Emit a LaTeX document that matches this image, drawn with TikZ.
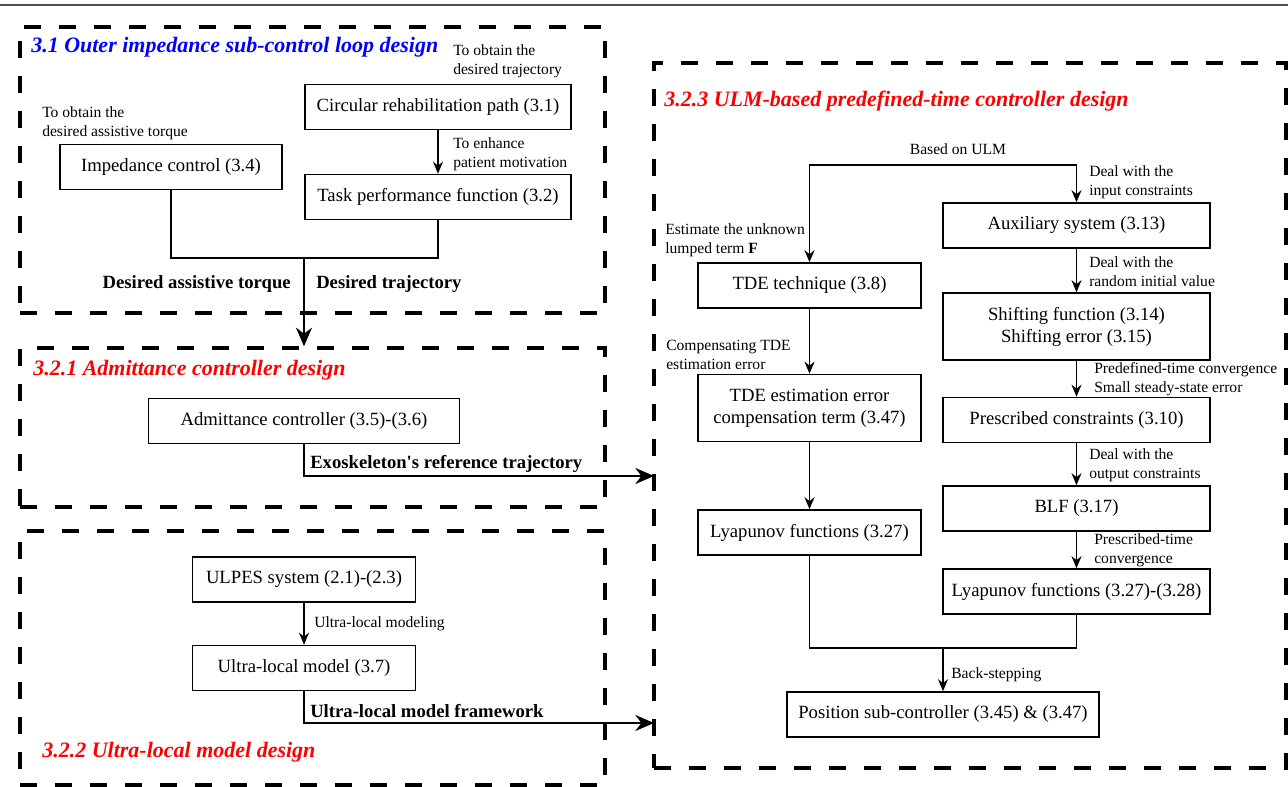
\documentclass[tikz,border=0pt]{standalone}
\usepackage{fontspec}
\setmainfont{Liberation Serif}
\usetikzlibrary{arrows.meta}

\begin{document}
\begin{tikzpicture}[x=0.75pt,y=-0.75pt,
  box/.style={draw,line width=1.2pt,minimum height=33.75pt,inner sep=0pt,align=center,font=\fontsize{14}{16.5}\selectfont},
  area/.style={draw,line width=2.5pt,dash pattern=on 12.75pt off 13.5pt,inner sep=0pt},
  note/.style={anchor=west,align=left,inner sep=0pt,font=\fontsize{11.7}{14.25}\selectfont},
  tag/.style={inner sep=0pt,font=\fontsize{14}{16}\selectfont\bfseries},
  heading/.style={anchor=west,inner sep=0pt,font=\fontsize{16.5}{18}\selectfont\bfseries\itshape},
  link/.style={line width=1.1pt,-{Stealth[length=9pt,width=7.5pt]}},
  mainlink/.style={line width=1.8pt,-{Stealth[length=14pt,width=12pt]}}]
\useasboundingbox (0,0) rectangle (1288,787);
\draw[line width=1.5pt,black!70] (0,5) -- (1288,5);

\node[area,minimum width=438.75pt,minimum height=214.5pt] (outer) at (312.5,170) {};
\node[area,minimum width=438.75pt,minimum height=119.25pt] (adml) at (312.5,427.5) {};
\node[area,minimum width=438.75pt,minimum height=190.5pt] (ulml) at (312.5,658) {};
\node[area,minimum width=474pt,minimum height=528.75pt] (ctrl) at (970,415.5) {};

\node[heading,text=blue] (t1) at (31,47) {3.1 Outer impedance sub-control loop design};
\node[heading,text=red] (t2) at (33,370) {3.2.1 Admittance controller design};
\node[heading,text=red] (t3) at (42,752) {3.2.2 Ultra-local model design};
\node[heading,text=red] (t4) at (664,101) {3.2.3 ULM-based predefined-time controller design};

\node[box,minimum width=199.5pt] (circ) at (438,107) {Circular rehabilitation path (3.1)};
\node[box,minimum width=199.5pt] (task) at (438,197) {Task performance function (3.2)};
\node[box,minimum width=166.5pt] (imp) at (171,167) {Impedance control (3.4)};
\node[box,minimum width=233.25pt] (adm) at (304,421) {Admittance controller (3.5)-(3.6)};
\node[box,minimum width=167.25pt] (ulpes) at (304,579.5) {ULPES system (2.1)-(2.3)};
\node[box,minimum width=167.25pt] (ulm) at (304,668) {Ultra-local model (3.7)};

\node[box,minimum width=200.25pt] (aux) at (1076.5,225.5) {Auxiliary system (3.13)};
\node[box,minimum width=167.25pt] (tde) at (809.5,285.5) {TDE technique (3.8)};
\node[box,minimum width=200.25pt,minimum height=50.25pt] (shift) at (1076.5,326.5) {Shifting function (3.14)\\Shifting error (3.15)};
\node[box,minimum width=167.25pt,minimum height=50.25pt] (comp) at (809.5,408) {TDE estimation error\\compensation term (3.47)};
\node[box,minimum width=200.25pt] (presc) at (1076.5,420) {Prescribed constraints (3.10)};
\node[box,minimum width=200.25pt] (blf) at (1076.5,508.5) {BLF (3.17)};
\node[box,minimum width=167.25pt] (lyap) at (809.5,532.5) {Lyapunov functions (3.27)};
\node[box,minimum width=200.25pt] (lyapb) at (1076.5,591.5) {Lyapunov functions (3.27)-(3.28)};
\node[box,minimum width=234pt] (pos) at (943,714.5) {Position sub-controller (3.45) \& (3.47)};

\node[note] (n1) at (453,61.5) {To obtain the\\desired trajectory};
\node[note] (n2) at (453,154) {To enhance\\patient motivation};
\node[note] (n3) at (42,123) {To obtain the\\desired assistive torque};
\node[note] (n4) at (314,624) {Ultra-local modeling};
\node[note,anchor=center] (n5) at (958,149) {Based on ULM};
\node[note] (n6) at (1089,182) {Deal with the\\input constraints};
\node[note] (n7) at (665,240.5) {Estimate the unknown\\lumped term \textbf{F}};
\node[note] (n8) at (1089,271.5) {Deal with the\\random initial value};
\node[note] (n9) at (666,354.5) {Compensating TDE\\estimation error};
\node[note] (n10) at (1094,379) {Predefined-time convergence\\Small steady-state error};
\node[note] (n11) at (1089,465.5) {Deal with the\\output constraints};
\node[note] (n12) at (1094,550.5) {Prescribed-time\\convergence};
\node[note] (n13) at (951,675) {Back-stepping};

\node[tag,anchor=east] (l1) at (291,284) {Desired assistive torque};
\node[tag,anchor=west] (l2) at (316,284) {Desired trajectory};
\node[tag,anchor=west] (l3) at (310,464) {Exoskeleton\textquotesingle s reference trajectory};
\node[tag,anchor=west] (l4) at (310,711) {Ultra-local model framework};

\coordinate (j1) at (304,258);
\coordinate (e1) at (654,476);
\coordinate (e2) at (654,723);
\coordinate (j2) at (943,165);
\coordinate (j3) at (943,648);

\draw[link] (circ) -- (task);
\draw[line width=1.1pt] (imp.south) |- (j1) -| (task.south);
\draw[mainlink] (j1) -- (j1 |- adml.north);
\draw[mainlink] (adm.south) |- (e1);
\draw[link] (ulpes) -- (ulm);
\draw[mainlink] (ulm.south) |- (e2);

\draw[link] (j2) -| (tde.north);
\draw[link] (j2) -| (aux.north);
\draw[link] (aux) -- (shift);
\draw[link] (shift) -- (presc);
\draw[link] (presc) -- (blf);
\draw[link] (blf) -- (lyapb);
\draw[link] (tde) -- (comp);
\draw[link] (comp) -- (lyap);
\draw[line width=1.1pt] (lyap.south) |- (j3) -| (lyapb.south);
\draw[link] (j3) -- (pos);
\end{tikzpicture}
\end{document}
